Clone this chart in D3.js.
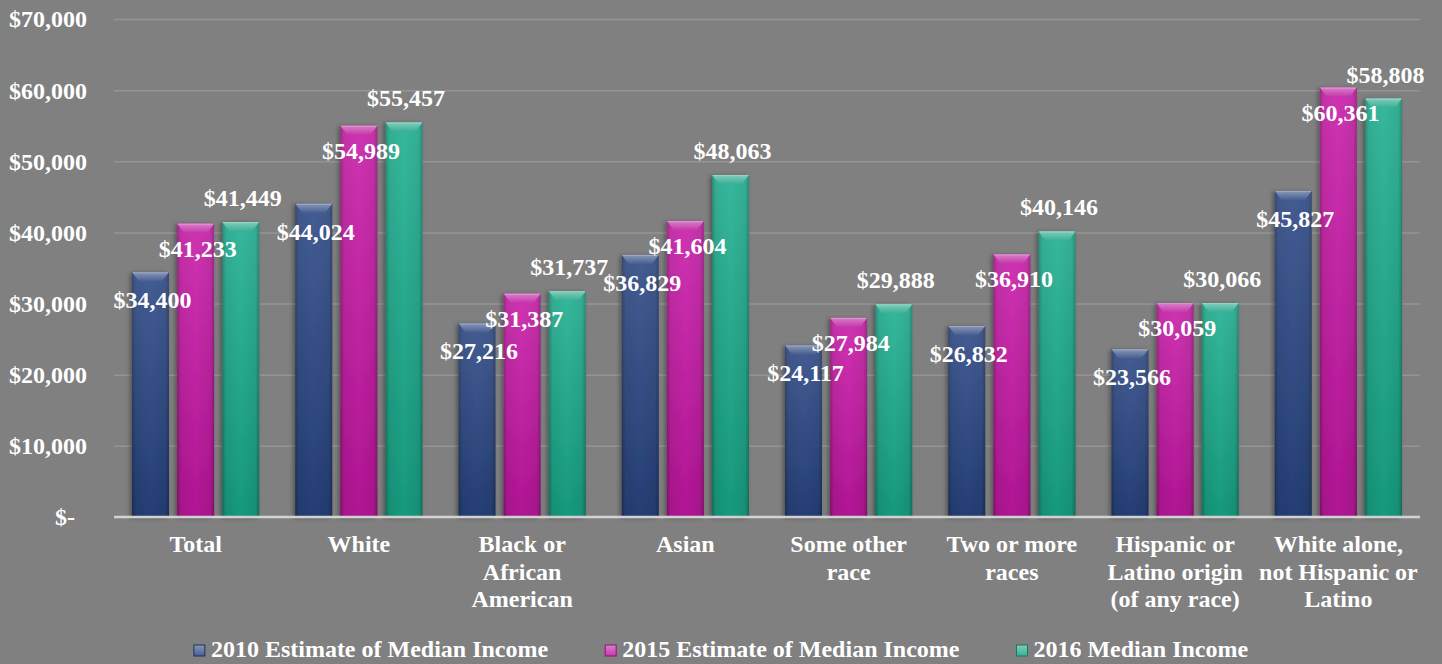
<!DOCTYPE html>
<html>
<head>
<meta charset="utf-8">
<script src="https://cdn.jsdelivr.net/npm/d3@7"></script>
<style>
  html, body { margin: 0; padding: 0; background: #808080; }
  svg text { font-family: "Liberation Serif", "Times New Roman", serif; font-weight: bold; fill: #ffffff; }
</style>
</head>
<body>
<div id="chart"></div>
<script>
// categories and series values
var categories = ["Total", "White", "Black or African American", "Asian", "Some other race",
  "Two or more races", "Hispanic or Latino origin (of any race)", "White alone, not Hispanic or Latino"];
var categoryLines = [["Total"], ["White"], ["Black or", "African", "American"], ["Asian"],
  ["Some other", "race"], ["Two or more", "races"], ["Hispanic or", "Latino origin", "(of any race)"],
  ["White alone,", "not Hispanic or", "Latino"]];
var seriesNames = ["2010 Estimate of Median Income", "2015 Estimate of Median Income", "2016 Median Income"];
var income2010 = [34400, 44024, 27216, 36829, 24117, 26832, 23566, 45827];
var income2015 = [41233, 54989, 31387, 41604, 27984, 36910, 30059, 60361];
var income2016 = [41449, 55457, 31737, 48063, 29888, 40146, 30066, 58808];
var yTicks = [0, 10000, 20000, 30000, 40000, 50000, 60000, 70000];

var seriesColors = ["#27427c", "#bb169c", "#18a284"];
// label baseline offset from bar top, per series
var labelOffsets = [36, 33, -16];

var width = 1442, height = 664;
var margin = { top: 19, right: 22, bottom: 147, left: 114 };
var plotW = width - margin.left - margin.right,
  plotH = height - margin.top - margin.bottom;

var series = [income2010, income2015, income2016];
var data = categories.map(function (c, i) {
  return { cat: c, lines: categoryLines[i], values: series.map(function (s, k) { return { k: k, v: s[i] }; }) };
});

var svg = d3.select("#chart").append("svg")
  .attr("width", width)
  .attr("height", height);

svg.append("rect").attr("width", width).attr("height", height).attr("fill", "#808080");

var defs = svg.append("defs");
seriesColors.forEach(function (col, k) {
  var c = d3.color(col);
  var g = defs.append("linearGradient").attr("id", "side" + k).attr("x1", 0).attr("x2", 1).attr("y1", 0).attr("y2", 0);
  g.append("stop").attr("offset", "0%").attr("stop-color", c.darker(0.8));
  g.append("stop").attr("offset", "10%").attr("stop-color", c);
  g.append("stop").attr("offset", "50%").attr("stop-color", c.brighter(0.2));
  g.append("stop").attr("offset", "90%").attr("stop-color", c);
  g.append("stop").attr("offset", "100%").attr("stop-color", c.darker(0.8));
  var t = defs.append("linearGradient").attr("id", "cap" + k).attr("x1", 0).attr("x2", 0).attr("y1", 0).attr("y2", 1);
  t.append("stop").attr("offset", "0%").attr("stop-color", d3.interpolateRgb(col, "#ffffff")(0.45));
  t.append("stop").attr("offset", "100%").attr("stop-color", d3.interpolateRgb(col, "#ffffff")(0.15));
});
var shade = defs.append("linearGradient").attr("id", "shade").attr("x1", 0).attr("x2", 0).attr("y1", 0).attr("y2", 1);
shade.append("stop").attr("offset", "0%").attr("stop-color", "#ffffff").attr("stop-opacity", 0.12);
shade.append("stop").attr("offset", "100%").attr("stop-color", "#000000").attr("stop-opacity", 0.12);
var f = defs.append("filter").attr("id", "shadow").attr("x", "-20%").attr("y", "-5%").attr("width", "140%").attr("height", "110%");
f.append("feDropShadow").attr("dx", -2).attr("dy", 1).attr("stdDeviation", 2)
  .attr("flood-color", "#000").attr("flood-opacity", 0.35);

var g = svg.append("g")
  .attr("transform", "translate(" + margin.left + "," + margin.top + ")");

var x0 = d3.scaleBand()
  .domain(categories)
  .range([0, plotW]);

var x1 = d3.scaleBand()
  .domain([0, 1, 2])
  .range([18, x0.bandwidth() - 18])
  .paddingInner(0.18);

var y = d3.scaleLinear()
  .domain([0, 70000])
  .range([plotH, 0]);

// gridlines + y tick labels
var yAxis = d3.axisLeft(y)
  .tickValues(yTicks)
  .tickSize(-plotW)
  .tickPadding(27)
  .tickFormat(function (d) { return d === 0 ? "$-\u2007" : "$" + d3.format(",")(d); });

var ya = g.append("g").attr("class", "y axis").call(yAxis);
ya.select(".domain").remove();
ya.selectAll(".tick line").attr("stroke", "#949494").attr("stroke-width", 1.5);
ya.selectAll(".tick text").style("font-size", "24px").attr("dy", "0.33em");

// bars
var groups = g.selectAll(".grp")
  .data(data)
  .enter().append("g")
  .attr("class", "grp")
  .attr("transform", function (d) { return "translate(" + x0(d.cat) + ",0)"; });

var bars = groups.selectAll(".bar")
  .data(function (d) { return d.values; })
  .enter().append("g")
  .attr("class", "bar")
  .attr("filter", "url(#shadow)");

var bw = x1.bandwidth();
bars.append("rect")
  .attr("x", function (d) { return x1(d.k); })
  .attr("y", function (d) { return y(d.v); })
  .attr("width", bw)
  .attr("height", function (d) { return plotH - y(d.v); })
  .attr("fill", function (d) { return "url(#side" + d.k + ")"; });

bars.append("rect")
  .attr("x", function (d) { return x1(d.k); })
  .attr("y", function (d) { return y(d.v); })
  .attr("width", bw)
  .attr("height", function (d) { return plotH - y(d.v); })
  .attr("fill", "url(#shade)");

// bevelled top cap
bars.append("path")
  .attr("d", function (d) {
    var xl = x1(d.k), yt = y(d.v), xr = xl + bw;
    return "M" + xl + "," + yt + "L" + xr + "," + yt + "L" + (xr - 7) + "," + (yt + 9) +
      "L" + (xl + 7) + "," + (yt + 9) + "Z";
  })
  .attr("fill", function (d) { return "url(#cap" + d.k + ")"; });

bars.append("line")
  .attr("x1", function (d) { return x1(d.k) + 1; })
  .attr("x2", function (d) { return x1(d.k) + bw - 1; })
  .attr("y1", function (d) { return y(d.v) + 0.5; })
  .attr("y2", function (d) { return y(d.v) + 0.5; })
  .attr("stroke", function (d) { return d3.interpolateRgb(seriesColors[d.k], "#ffffff")(0.55); })
  .attr("stroke-width", 1);

// baseline
g.append("line")
  .attr("x1", 0).attr("x2", plotW)
  .attr("y1", y(0)).attr("y2", y(0))
  .attr("stroke", "#d2d2d2").attr("stroke-width", 2.5);

// data labels
groups.selectAll(".label")
  .data(function (d) { return d.values; })
  .enter().append("text")
  .attr("class", "label")
  .attr("text-anchor", "middle")
  .style("font-size", "24px")
  .attr("x", function (d) { return x1(d.k) + bw / 2 + 2; })
  .attr("y", function (d) { return y(d.v) + labelOffsets[d.k]; })
  .text(function (d) { return "$" + d3.format(",")(d.v); });

// category labels
var catText = groups.append("text")
  .attr("text-anchor", "middle")
  .style("font-size", "24px")
  .attr("x", x0.bandwidth() / 2)
  .attr("y", plotH + 35);

catText.selectAll("tspan")
  .data(function (d) { return d.lines; })
  .enter().append("tspan")
  .attr("x", x0.bandwidth() / 2)
  .attr("dy", function (d, i) { return i === 0 ? 0 : 27.5; })
  .text(function (d) { return d; });

// legend, centred
var legend = svg.append("g").attr("class", "legend");
var items = legend.selectAll(".item")
  .data(seriesNames)
  .enter().append("g")
  .attr("class", "item");

items.append("rect")
  .attr("y", 645)
  .attr("width", 11).attr("height", 11)
  .attr("fill", function (d, i) { return "url(#cap" + i + ")"; })
  .attr("stroke", function (d, i) { return d3.color(seriesColors[i]).darker(0.8); })
  .attr("stroke-width", 1);

items.append("text")
  .attr("x", 17)
  .attr("y", 657)
  .style("font-size", "24px")
  .text(function (d) { return d; });

var gap = 57, pos = 0, offsets = [];
items.each(function () {
  offsets.push(pos);
  pos += 17 + d3.select(this).select("text").node().getComputedTextLength() + gap;
});
var total = pos - gap;
var startX = (width - total) / 2;
items.attr("transform", function (d, i) { return "translate(" + (startX + offsets[i]) + ",0)"; });
</script>
</body>
</html>
